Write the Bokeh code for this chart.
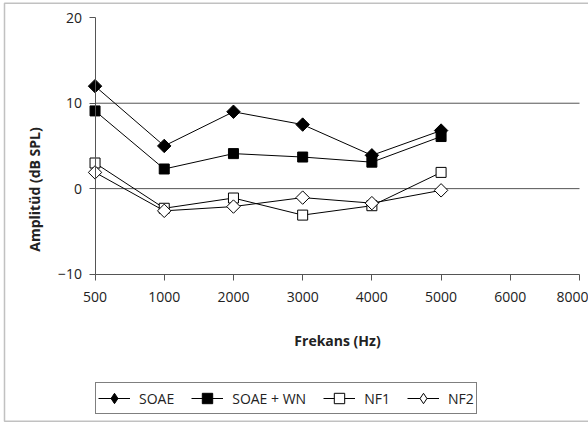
import numpy as np
from bokeh.plotting import figure
from bokeh.models import (Range1d, FixedTicker, Legend, LegendItem, Label,
                          BoxAnnotation, ColumnDataSource)
from bokeh.embed import file_html
from bokeh.resources import INLINE

categories = ["500", "1000", "2000", "3000", "4000", "5000", "6000", "8000"]
measured = ["500", "1000", "2000", "3000", "4000", "5000"]
soae = [12.0, 5.0, 9.0, 7.5, 3.9, 6.8]
soae_wn = [9.1, 2.3, 4.1, 3.7, 3.1, 6.1]
nf1 = [3.0, -2.3, -1.1, -3.1, -2.0, 1.9]
nf2 = [1.9, -2.6, -2.1, -1.05, -1.7, -0.2]
y_ticks = [-10, 0, 10, 20]
grid_ticks = [0, 10]

FONT = "Open Sans"
AX = "#555555"
TXT = "#222222"
W, H = 588, 424

xs = [categories.index(c) for c in measured]
x_last = len(categories) - 1
y_lo, y_hi = y_ticks[0], y_ticks[-1]

# frame covers the whole canvas; axes are pinned at data positions
p = figure(width=W, height=H, output_backend="svg", toolbar_location=None,
           x_range=Range1d(-1.366, x_last + 0.13),
           y_range=Range1d(y_lo - 17.62, y_hi + 2.03))
p.min_border = 0
p.min_border_left = p.min_border_right = p.min_border_top = p.min_border_bottom = 0
p.outline_line_color = None
p.background_fill_color = "white"
p.border_fill_color = "white"

p.xaxis.ticker = FixedTicker(ticks=list(range(len(categories))))
p.xaxis.major_label_overrides = {i: c for i, c in enumerate(categories)}
p.xaxis.bounds = (0, x_last)
p.xaxis.fixed_location = y_lo
p.yaxis.ticker = FixedTicker(ticks=y_ticks)
p.yaxis.bounds = (y_lo, y_hi)
p.yaxis.fixed_location = 0
for ax in (p.xaxis[0], p.yaxis[0]):
    ax.axis_line_color = AX
    ax.axis_line_width = 1
    ax.major_tick_line_color = AX
    ax.major_tick_out = 6
    ax.major_tick_in = 0
    ax.minor_tick_line_color = None
    ax.major_label_text_font = FONT
    ax.major_label_text_font_size = "14px"
    ax.major_label_text_color = TXT
p.xaxis.major_label_standoff = 12
p.yaxis.major_label_standoff = 7

# horizontal gridlines spanning only the category axis
p.xgrid.visible = False
p.ygrid.visible = False
p.segment(x0=[0] * len(grid_ticks), x1=[x_last] * len(grid_ticks),
          y0=grid_ticks, y1=grid_ticks, line_color=AX, line_width=1)

styles = [
    ("SOAE", soae, np.pi / 4, 9.5, "black", "diamond"),
    ("SOAE + WN", soae_wn, 0, 10, "black", None),
    ("NF1", nf1, 0, 10, "white", None),
    ("NF2", nf2, np.pi / 4, 9.5, "white", "diamond"),
]
items = []
for name, ys, ang, size, fill, legend_marker in styles:
    src = ColumnDataSource(data=dict(x=xs, y=ys))
    ln = p.line("x", "y", source=src, line_color="black", line_width=1)
    rs = [ln]
    if legend_marker is not None:
        # legend key: zero size in the plot, drawn at legend size in the legend
        key = p.scatter("x", "y", source=src, marker=legend_marker, size=0,
                        fill_color=fill, line_color="black", line_width=1)
        rs.append(key)
    sc = p.scatter("x", "y", source=src, marker="square", angle=ang, size=size,
                   fill_color=fill, line_color="black", line_width=1)
    if legend_marker is None:
        rs.append(sc)
    items.append(LegendItem(label=name, renderers=rs))

legend = Legend(items=items, orientation="horizontal", location=(95, H - 414))
legend.border_line_color = "black"
legend.border_line_width = 1
legend.background_fill_color = "white"
legend.background_fill_alpha = 1
legend.padding = 2
legend.margin = 0
legend.spacing = 17
legend.label_standoff = 9
legend.glyph_width = 32
legend.glyph_height = 26
legend.label_text_font = FONT
legend.label_text_font_size = "14px"
legend.label_text_color = TXT
legend.label_height = 20
p.add_layout(legend, "center")

p.add_layout(Label(x=337, y=H - 340, x_units="screen", y_units="screen",
                   text="Frekans (Hz)", text_font=FONT, text_font_size="14px",
                   text_font_style="bold", text_align="center",
                   text_baseline="middle", text_color=TXT))
p.add_layout(Label(x=34, y=H - 189, x_units="screen", y_units="screen",
                   text="Amplitüd (dB SPL)", text_font=FONT, text_font_size="14px",
                   text_font_style="bold", text_align="center", angle=np.pi / 2,
                   text_baseline="middle", text_color=TXT))

p.add_layout(BoxAnnotation(left=4, right=W + 6, bottom=3.3, top=H - 2.7,
                           left_units="screen", right_units="screen",
                           top_units="screen", bottom_units="screen",
                           fill_alpha=0, line_color="#333333", line_width=1.5))

open("out.html", "w").write(file_html(p, INLINE))
